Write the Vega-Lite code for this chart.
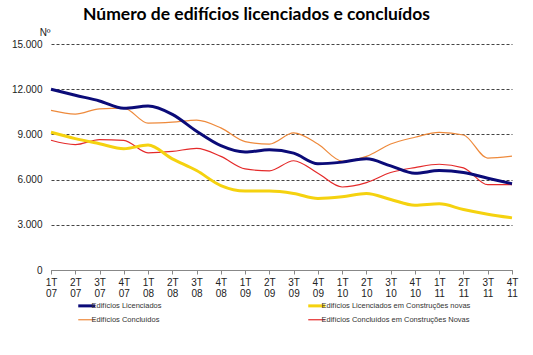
{
  "$schema": "https://vega.github.io/schema/vega-lite/v6.json",
  "width": 461,
  "height": 226,
  "autosize": {"type": "none"},
  "padding": {"left": 51, "top": 44, "right": 21, "bottom": 85},
  "background": "white",
  "title": {
    "text": "Número de edifícios licenciados e concluídos",
    "font": "Lato",
    "fontSize": 17.5,
    "fontWeight": "bold",
    "color": "#000000",
    "anchor": "middle",
    "dx": -25,
    "offset": 4
  },
  "data": {
    "values": [
      {"t": "1T 07", "serie": "Edifícios Licenciados", "v": 12000},
      {"t": "2T 07", "serie": "Edifícios Licenciados", "v": 11600},
      {"t": "3T 07", "serie": "Edifícios Licenciados", "v": 11220},
      {"t": "4T 07", "serie": "Edifícios Licenciados", "v": 10730},
      {"t": "1T 08", "serie": "Edifícios Licenciados", "v": 10880},
      {"t": "2T 08", "serie": "Edifícios Licenciados", "v": 10330},
      {"t": "3T 08", "serie": "Edifícios Licenciados", "v": 9210},
      {"t": "4T 08", "serie": "Edifícios Licenciados", "v": 8250},
      {"t": "1T 09", "serie": "Edifícios Licenciados", "v": 7830},
      {"t": "2T 09", "serie": "Edifícios Licenciados", "v": 7980},
      {"t": "3T 09", "serie": "Edifícios Licenciados", "v": 7760},
      {"t": "4T 09", "serie": "Edifícios Licenciados", "v": 7050},
      {"t": "1T 10", "serie": "Edifícios Licenciados", "v": 7160},
      {"t": "2T 10", "serie": "Edifícios Licenciados", "v": 7380},
      {"t": "3T 10", "serie": "Edifícios Licenciados", "v": 6910},
      {"t": "4T 10", "serie": "Edifícios Licenciados", "v": 6420},
      {"t": "1T 11", "serie": "Edifícios Licenciados", "v": 6600},
      {"t": "2T 11", "serie": "Edifícios Licenciados", "v": 6470},
      {"t": "3T 11", "serie": "Edifícios Licenciados", "v": 6090},
      {"t": "4T 11", "serie": "Edifícios Licenciados", "v": 5730},
      {"t": "1T 07", "serie": "Edifícios Licenciados em Construções novas", "v": 9140},
      {"t": "2T 07", "serie": "Edifícios Licenciados em Construções novas", "v": 8720},
      {"t": "3T 07", "serie": "Edifícios Licenciados em Construções novas", "v": 8380},
      {"t": "4T 07", "serie": "Edifícios Licenciados em Construções novas", "v": 8050},
      {"t": "1T 08", "serie": "Edifícios Licenciados em Construções novas", "v": 8290},
      {"t": "2T 08", "serie": "Edifícios Licenciados em Construções novas", "v": 7380},
      {"t": "3T 08", "serie": "Edifícios Licenciados em Construções novas", "v": 6600},
      {"t": "4T 08", "serie": "Edifícios Licenciados em Construções novas", "v": 5600},
      {"t": "1T 09", "serie": "Edifícios Licenciados em Construções novas", "v": 5240},
      {"t": "2T 09", "serie": "Edifícios Licenciados em Construções novas", "v": 5240},
      {"t": "3T 09", "serie": "Edifícios Licenciados em Construções novas", "v": 5080},
      {"t": "4T 09", "serie": "Edifícios Licenciados em Construções novas", "v": 4750},
      {"t": "1T 10", "serie": "Edifícios Licenciados em Construções novas", "v": 4860},
      {"t": "2T 10", "serie": "Edifícios Licenciados em Construções novas", "v": 5080},
      {"t": "3T 10", "serie": "Edifícios Licenciados em Construções novas", "v": 4680},
      {"t": "4T 10", "serie": "Edifícios Licenciados em Construções novas", "v": 4300},
      {"t": "1T 11", "serie": "Edifícios Licenciados em Construções novas", "v": 4390},
      {"t": "2T 11", "serie": "Edifícios Licenciados em Construções novas", "v": 4010},
      {"t": "3T 11", "serie": "Edifícios Licenciados em Construções novas", "v": 3700},
      {"t": "4T 11", "serie": "Edifícios Licenciados em Construções novas", "v": 3460},
      {"t": "1T 07", "serie": "Edifícios Concluídos", "v": 10590},
      {"t": "2T 07", "serie": "Edifícios Concluídos", "v": 10350},
      {"t": "3T 07", "serie": "Edifícios Concluídos", "v": 10700},
      {"t": "4T 07", "serie": "Edifícios Concluídos", "v": 10750},
      {"t": "1T 08", "serie": "Edifícios Concluídos", "v": 9750},
      {"t": "2T 08", "serie": "Edifícios Concluídos", "v": 9810},
      {"t": "3T 08", "serie": "Edifícios Concluídos", "v": 9950},
      {"t": "4T 08", "serie": "Edifícios Concluídos", "v": 9430},
      {"t": "1T 09", "serie": "Edifícios Concluídos", "v": 8520},
      {"t": "2T 09", "serie": "Edifícios Concluídos", "v": 8360},
      {"t": "3T 09", "serie": "Edifícios Concluídos", "v": 9100},
      {"t": "4T 09", "serie": "Edifícios Concluídos", "v": 8360},
      {"t": "1T 10", "serie": "Edifícios Concluídos", "v": 7230},
      {"t": "2T 10", "serie": "Edifícios Concluídos", "v": 7540},
      {"t": "3T 10", "serie": "Edifícios Concluídos", "v": 8360},
      {"t": "4T 10", "serie": "Edifícios Concluídos", "v": 8810},
      {"t": "1T 11", "serie": "Edifícios Concluídos", "v": 9140},
      {"t": "2T 11", "serie": "Edifícios Concluídos", "v": 8960},
      {"t": "3T 11", "serie": "Edifícios Concluídos", "v": 7430},
      {"t": "4T 11", "serie": "Edifícios Concluídos", "v": 7560},
      {"t": "1T 07", "serie": "Edifícios Concluídos em Construções Novas", "v": 8610},
      {"t": "2T 07", "serie": "Edifícios Concluídos em Construções Novas", "v": 8320},
      {"t": "3T 07", "serie": "Edifícios Concluídos em Construções Novas", "v": 8650},
      {"t": "4T 07", "serie": "Edifícios Concluídos em Construções Novas", "v": 8610},
      {"t": "1T 08", "serie": "Edifícios Concluídos em Construções Novas", "v": 7780},
      {"t": "2T 08", "serie": "Edifícios Concluídos em Construções Novas", "v": 7870},
      {"t": "3T 08", "serie": "Edifícios Concluídos em Construções Novas", "v": 8070},
      {"t": "4T 08", "serie": "Edifícios Concluídos em Construções Novas", "v": 7540},
      {"t": "1T 09", "serie": "Edifícios Concluídos em Construções Novas", "v": 6710},
      {"t": "2T 09", "serie": "Edifícios Concluídos em Construções Novas", "v": 6580},
      {"t": "3T 09", "serie": "Edifícios Concluídos em Construções Novas", "v": 7250},
      {"t": "4T 09", "serie": "Edifícios Concluídos em Construções Novas", "v": 6420},
      {"t": "1T 10", "serie": "Edifícios Concluídos em Construções Novas", "v": 5510},
      {"t": "2T 10", "serie": "Edifícios Concluídos em Construções Novas", "v": 5800},
      {"t": "3T 10", "serie": "Edifícios Concluídos em Construções Novas", "v": 6470},
      {"t": "4T 10", "serie": "Edifícios Concluídos em Construções Novas", "v": 6800},
      {"t": "1T 11", "serie": "Edifícios Concluídos em Construções Novas", "v": 7020},
      {"t": "2T 11", "serie": "Edifícios Concluídos em Construções Novas", "v": 6780},
      {"t": "3T 11", "serie": "Edifícios Concluídos em Construções Novas", "v": 5660},
      {"t": "4T 11", "serie": "Edifícios Concluídos em Construções Novas", "v": 5660}
    ]
  },
  "encoding": {
    "x": {
      "field": "t",
      "type": "ordinal",
      "sort": null,
      "scale": {"type": "point", "padding": 0},
      "axis": {
        "title": null,
        "labelAngle": 0,
        "labelExpr": "split(datum.label, ' ')",
        "labelFont": "Liberation Sans",
        "labelFontSize": 10,
        "labelColor": "#222222",
        "labelLineHeight": 11,
        "labelPadding": 3,
        "tickSize": 4,
        "tickColor": "#888888",
        "domainColor": "#888888",
        "grid": false
      }
    },
    "y": {
      "field": "v",
      "type": "quantitative",
      "scale": {"domain": [0, 15000], "nice": false},
      "axis": {
        "title": "Nº",
        "titleAngle": 0,
        "titleAlign": "right",
        "titleBaseline": "alphabetic",
        "titleX": -1,
        "titleY": -9,
        "titleFont": "Liberation Sans",
        "titleFontSize": 10,
        "titleFontWeight": "normal",
        "titleColor": "#222222",
        "values": [0, 3000, 6000, 9000, 12000, 15000],
        "labelExpr": "replace(format(datum.value, ','), ',', '.')",
        "labelFont": "Liberation Sans",
        "labelFontSize": 10,
        "labelColor": "#222222",
        "labelPadding": 9,
        "ticks": false,
        "domain": false,
        "grid": true,
        "gridDash": [3, 2],
        "gridColor": "#444444",
        "gridWidth": 1
      }
    },
    "color": {
      "field": "serie",
      "type": "nominal",
      "scale": {
        "domain": ["Edifícios Licenciados", "Edifícios Licenciados em Construções novas", "Edifícios Concluídos", "Edifícios Concluídos em Construções Novas"],
        "range": ["#0b0b78", "#f5d20f", "#ee8a3c", "#e42a2a"]
      },
      "legend": {
        "title": null,
        "orient": "none",
        "direction": "horizontal",
        "legendX": 32,
        "legendY": 258,
        "columns": 2,
        "columnPadding": 140,
        "rowPadding": 3,
        "symbolType": "stroke",
        "symbolSize": 289,
        "symbolStrokeWidth": 2,
        "labelOffset": 1,
        "labelFont": "Liberation Sans",
        "labelFontSize": 7.5,
        "labelColor": "#333333",
        "encode": {
          "symbols": {
            "update": {
              "strokeWidth": {"signal": "datum.index < 2 ? 3 : 1.2"}
            }
          }
        }
      }
    }
  },
  "layer": [
    {
      "transform": [{"filter": "indexof(datum.serie, 'Concluídos') >= 0"}],
      "mark": {"type": "line", "interpolate": "monotone", "strokeWidth": 1.2}
    },
    {
      "transform": [{"filter": "indexof(datum.serie, 'Licenciados') >= 0"}],
      "mark": {"type": "line", "interpolate": "monotone", "strokeWidth": 3}
    }
  ],
  "config": {"view": {"stroke": null}}
}
